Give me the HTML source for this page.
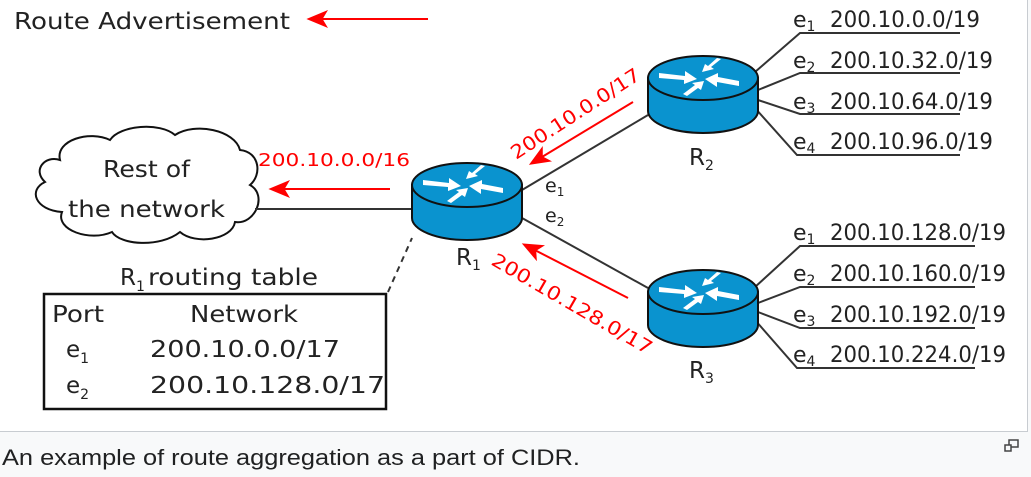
<!DOCTYPE html>
<html><head><meta charset="utf-8"><style>
html,body{margin:0;padding:0;background:#f8f9fa;}
body{width:1031px;height:477px;position:relative;overflow:hidden;font-family:"Liberation Sans",sans-serif;}
#img{position:absolute;left:0;top:0;width:1027px;height:431px;background:#fff;border-right:1px solid #c8ccd1;border-bottom:1px solid #c8ccd1;}
svg text{font-family:"DejaVu Sans","Liberation Sans",sans-serif;}
</style></head><body>
<div id="img">
<svg width="1027" height="431" viewBox="0 0 1027 431">
<defs>
<marker id="ah" viewBox="0 0 12 10" refX="10" refY="5" markerWidth="11" markerHeight="9" orient="auto" markerUnits="strokeWidth">
<path d="M12,5 L0,0 L3,5 L0,10 Z" fill="#f00"/>
</marker>
<g id="router">
<path d="M-55,0 L-55,33 A55,22 0 0 0 55,33 L55,0 Z" fill="#0a93cf" stroke="#111" stroke-width="2"/>
<ellipse cx="0" cy="0" rx="55" ry="22" fill="#0a93cf" stroke="#111" stroke-width="2"/>
<g fill="#fff">
<path d="M-44,-5 L-18,-2 L-18,-7 L-6,1 L-19,6 L-19,2 L-44,0Z"/>
<path d="M36,8 L14,4 L14,9 L2,1 L15,-5 L15,-1 L36,3Z"/>
<path d="M-20,16 L-8,7 L-11,5 L1,3 L-2,12 L-5,10 L-16,18Z"/>
<path d="M18,-19 L8,-11 L11,-9 L-1,-6 L2,-14 L5,-12 L14,-20Z"/>
</g>
</g>
</defs>
<text x="14" y="29" font-size="23" fill="#222" textLength="276" lengthAdjust="spacingAndGlyphs">Route Advertisement</text>
<line x1="428" y1="19" x2="310" y2="19" stroke="#f00" stroke-width="2" marker-end="url(#ah)"/>
<path d="M60,160 C55,140 90,130 110,140 C120,125 160,122 175,135 C195,122 235,130 240,150 C260,152 262,175 250,185 C268,195 255,225 235,222 C232,240 195,245 180,232 C160,248 120,245 112,232 C90,242 55,230 62,212 C35,210 28,190 45,182 C32,170 45,155 60,160Z" fill="#fff" stroke="#111" stroke-width="2"/>
<text x="103" y="177" font-size="23" fill="#222" textLength="87" lengthAdjust="spacingAndGlyphs">Rest of</text>
<text x="68" y="217" font-size="23" fill="#222" textLength="157" lengthAdjust="spacingAndGlyphs">the network</text>
<line x1="255" y1="209" x2="412" y2="209" stroke="#333" stroke-width="2"/>
<text x="258" y="166" font-size="18" fill="#f00" textLength="152" lengthAdjust="spacingAndGlyphs">200.10.0.0/16</text>
<line x1="390" y1="189" x2="272" y2="189" stroke="#f00" stroke-width="2" marker-end="url(#ah)"/>
<line x1="522" y1="190" x2="648" y2="115" stroke="#333" stroke-width="2"/>
<line x1="522" y1="218" x2="648" y2="288" stroke="#333" stroke-width="2"/>
<line x1="633" y1="102" x2="532" y2="163" stroke="#f00" stroke-width="2" marker-end="url(#ah)"/>
<line x1="628" y1="298" x2="525" y2="245" stroke="#f00" stroke-width="2" marker-end="url(#ah)"/>
<text transform="translate(516,160) rotate(-33)" font-size="19" fill="#f00" textLength="150" lengthAdjust="spacingAndGlyphs">200.10.0.0/17</text>
<text transform="translate(490,264) rotate(30)" font-size="19" fill="#f00" textLength="182" lengthAdjust="spacingAndGlyphs">200.10.128.0/17</text>
<text x="545" y="192" font-size="19" fill="#222">e<tspan font-size="12" dy="4">1</tspan></text>
<text x="545" y="222" font-size="19" fill="#222">e<tspan font-size="12" dy="4">2</tspan></text>
<line x1="388" y1="292" x2="412" y2="238" stroke="#333" stroke-width="2" stroke-dasharray="6,5"/>
<g stroke="#333" stroke-width="2" fill="none">
<polyline points="755,72 800,33 960,33"/>
<polyline points="758,90 800,73 960,73"/>
<polyline points="758,100 800,114 960,114"/>
<polyline points="755,108 797,155 960,155"/>
<polyline points="755,287 800,246 975,246"/>
<polyline points="758,303 800,287 975,287"/>
<polyline points="758,312 800,328 975,328"/>
<polyline points="755,320 797,368 975,368"/>
</g>
<use href="#router" x="467" y="185"/>
<use href="#router" x="703" y="78"/>
<use href="#router" x="703" y="292"/>
<text x="456" y="265" font-size="23" fill="#222">R<tspan font-size="14" dy="5">1</tspan></text>
<text x="689" y="165" font-size="23" fill="#222">R<tspan font-size="14" dy="5">2</tspan></text>
<text x="689" y="378" font-size="23" fill="#222">R<tspan font-size="14" dy="5">3</tspan></text>
<g font-size="22" fill="#222">
<text x="793" y="27">e<tspan font-size="14" dy="4">1</tspan></text><text x="830" y="27" textLength="150" lengthAdjust="spacingAndGlyphs">200.10.0.0/19</text>
<text x="793" y="68">e<tspan font-size="14" dy="4">2</tspan></text><text x="830" y="68" textLength="163" lengthAdjust="spacingAndGlyphs">200.10.32.0/19</text>
<text x="793" y="109">e<tspan font-size="14" dy="4">3</tspan></text><text x="830" y="109" textLength="163" lengthAdjust="spacingAndGlyphs">200.10.64.0/19</text>
<text x="793" y="149">e<tspan font-size="14" dy="4">4</tspan></text><text x="830" y="149" textLength="163" lengthAdjust="spacingAndGlyphs">200.10.96.0/19</text>
<text x="793" y="240">e<tspan font-size="14" dy="4">1</tspan></text><text x="830" y="240" textLength="176" lengthAdjust="spacingAndGlyphs">200.10.128.0/19</text>
<text x="793" y="281">e<tspan font-size="14" dy="4">2</tspan></text><text x="830" y="281" textLength="176" lengthAdjust="spacingAndGlyphs">200.10.160.0/19</text>
<text x="793" y="322">e<tspan font-size="14" dy="4">3</tspan></text><text x="830" y="322" textLength="176" lengthAdjust="spacingAndGlyphs">200.10.192.0/19</text>
<text x="793" y="362">e<tspan font-size="14" dy="4">4</tspan></text><text x="830" y="362" textLength="176" lengthAdjust="spacingAndGlyphs">200.10.224.0/19</text>
</g>
<text x="120" y="285" font-size="23" fill="#222">R<tspan font-size="14" dy="6">1</tspan></text>
<text x="148" y="285" font-size="23" fill="#222" textLength="170" lengthAdjust="spacingAndGlyphs">routing table</text>
<rect x="44" y="294" width="342" height="115" fill="#fff" stroke="#111" stroke-width="2.5"/>
<g font-size="23" fill="#222">
<text x="52" y="322" textLength="52" lengthAdjust="spacingAndGlyphs">Port</text>
<text x="190" y="322" textLength="108" lengthAdjust="spacingAndGlyphs">Network</text>
<text x="66" y="357">e<tspan font-size="14" dy="6">1</tspan></text>
<text x="150" y="357" textLength="190" lengthAdjust="spacingAndGlyphs">200.10.0.0/17</text>
<text x="66" y="393">e<tspan font-size="14" dy="6">2</tspan></text>
<text x="150" y="393" textLength="235" lengthAdjust="spacingAndGlyphs">200.10.128.0/17</text>
</g>
</svg>
</div>
<svg style="position:absolute;left:0;top:432px" width="1031" height="45">
<text x="2" y="33" font-size="22" fill="#202122" style="font-family:'Liberation Sans',sans-serif" textLength="578" lengthAdjust="spacingAndGlyphs">An example of route aggregation as a part of CIDR.</text>
<rect x="1009" y="8" width="9" height="7" fill="none" stroke="#444" stroke-width="1.5"/><rect x="1005" y="13" width="6" height="6" fill="#f8f9fa" stroke="#444" stroke-width="1.5"/>
</svg>
</body></html>
